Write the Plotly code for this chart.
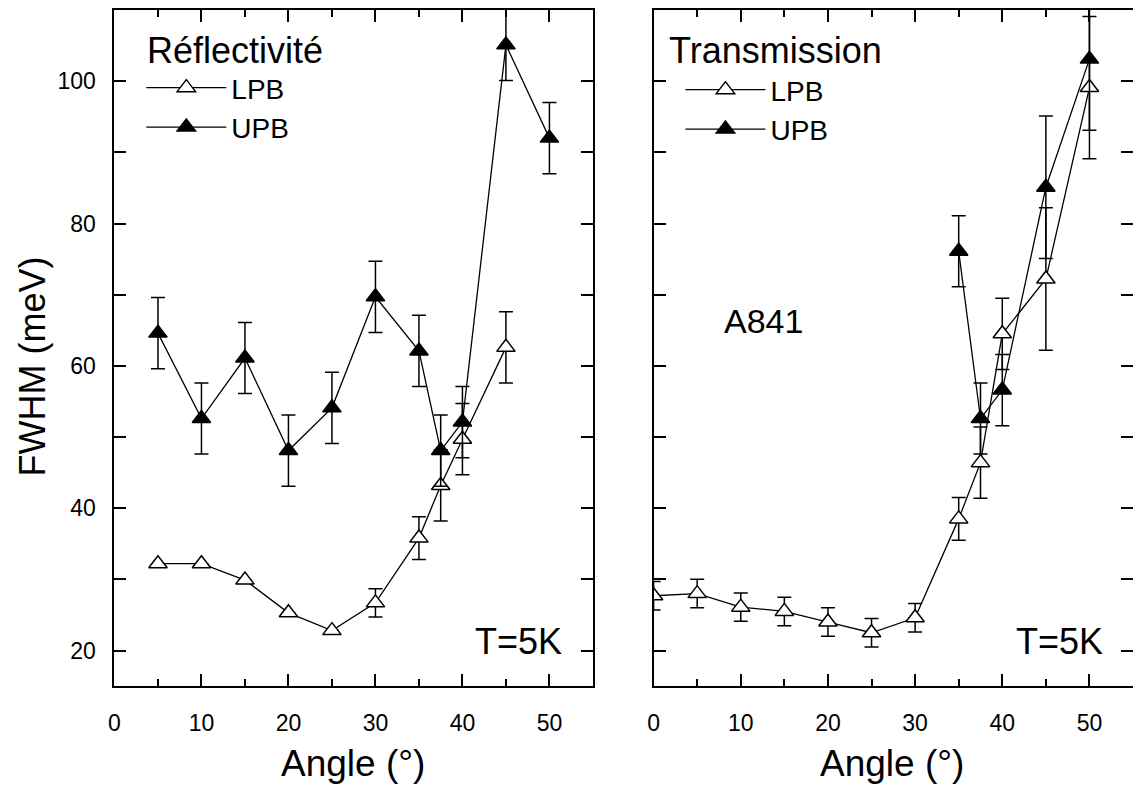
import plotly.graph_objects as go

# Réflectivité (left panel)
refl_lpb_angle = [5, 10, 15, 20, 25, 30, 35, 37.5, 40, 45]
refl_lpb_fwhm = [32.2, 32.2, 29.9, 25.3, 22.8, 26.7, 35.8, 43.2, 49.7, 62.6]
refl_lpb_err = [0, 0, 0, 0, 0, 2, 3, 5, 5, 5]

refl_upb_angle = [5, 10, 15, 20, 25, 30, 35, 37.5, 40, 45, 50]
refl_upb_fwhm = [64.6, 52.6, 61.1, 48.1, 54.1, 69.7, 62.1, 48.1, 52.1, 105.1, 92.0]
refl_upb_err = [5, 5, 5, 5, 5, 5, 5, 5, 5, 5, 5]

# Transmission (right panel)
trans_lpb_angle = [0, 5, 10, 15, 20, 25, 30, 35, 37.5, 40, 45, 50]
trans_lpb_fwhm = [27.7, 28.0, 26.1, 25.5, 24.0, 22.5, 24.6, 38.5, 46.4, 64.5, 72.2, 99.1]
trans_lpb_err = [2, 2, 2, 2, 2, 2, 2, 3, 5, 5, 10, 10]

trans_upb_angle = [35, 37.5, 40, 45, 50]
trans_upb_fwhm = [76.1, 52.6, 56.6, 85.1, 103.1]
trans_upb_err = [5, 5, 5, 10, 10]

x_tickvals = [0, 10, 20, 30, 40, 50]
x_ticktext = ['0', '10', '20', '30', '40', '50']
x_minorvals = [5, 15, 25, 35, 45]
y_tickvals = [20, 30, 40, 50, 60, 70, 80, 90, 100]
y_ticktext = ['20', '', '40', '', '60', '', '80', '', '100']

FONT = 'Liberation Sans, Arial, sans-serif'
# page body has an 8px margin, so the figure is drawn 8px smaller
W, H = 1133, 779


def px(x):
    return x / W


def py(y):
    return 1 - y / H


def add_series(fig, x, y, err, name, filled, xaxis, yaxis, legend):
    fig.add_trace(go.Scatter(
        x=x, y=y, mode='lines+markers', name=name,
        xaxis=xaxis, yaxis=yaxis, legend=legend,
        line=dict(color='black', width=1.3),
        marker=dict(symbol='triangle-up', size=16,
                    color='black' if filled else 'white',
                    line=dict(color='black', width=1.5)),
        error_y=dict(type='data', array=err, color='black', thickness=1.5, width=7),
    ))


def x_axis(domain, anchor):
    return dict(
        domain=domain, anchor=anchor, range=[0, 55],
        tickmode='array', tickvals=x_tickvals, ticktext=x_ticktext,
        ticks='inside', ticklen=12, tickwidth=1.5, tickcolor='black',
        minor=dict(tickmode='array', tickvals=x_minorvals, ticks='inside',
                   ticklen=7, tickwidth=1.5, tickcolor='black'),
        showline=True, linecolor='black', linewidth=2, mirror='ticks',
        showgrid=False, zeroline=False,
        tickfont=dict(family=FONT, size=23, color='black'),
        ticklabelstandoff=15,
    )


def y_axis(domain, anchor, labels=True):
    return dict(
        domain=domain, anchor=anchor, range=[15, 110],
        tickmode='array', tickvals=y_tickvals, ticktext=y_ticktext,
        ticks='inside', ticklen=12, tickwidth=1.5, tickcolor='black',
        showticklabels=labels,
        showline=True, linecolor='black', linewidth=2, mirror='ticks',
        showgrid=False, zeroline=False,
        tickfont=dict(family=FONT, size=23, color='black'),
        ticklabelstandoff=12,
    )


def label(text, x, y, size, xanchor='left', angle=0):
    return dict(text=text, x=px(x), y=py(y), xref='paper', yref='paper',
                xanchor=xanchor, yanchor='middle', textangle=angle,
                showarrow=False, font=dict(family=FONT, size=size, color='black'))


fig = go.Figure()

add_series(fig, refl_lpb_angle, refl_lpb_fwhm, refl_lpb_err, 'LPB', False, 'x', 'y', 'legend')
add_series(fig, refl_upb_angle, refl_upb_fwhm, refl_upb_err, 'UPB', True, 'x', 'y', 'legend')
add_series(fig, trans_lpb_angle, trans_lpb_fwhm, trans_lpb_err, 'LPB', False, 'x2', 'y2', 'legend2')
add_series(fig, trans_upb_angle, trans_upb_fwhm, trans_upb_err, 'UPB', True, 'x2', 'y2', 'legend2')

y_dom = [py(678), py(1)]
legend_style = dict(xanchor='left', yanchor='top', bgcolor='rgba(0,0,0,0)',
                    font=dict(family=FONT, size=28, color='black'),
                    itemwidth=80, tracegroupgap=0)

fig.update_layout(
    width=W, height=H,
    margin=dict(l=0, r=0, t=0, b=0),
    paper_bgcolor='white', plot_bgcolor='white',
    font=dict(family=FONT, color='black'),
    xaxis=x_axis([px(101), px(582)], 'y'),
    yaxis=y_axis(y_dom, 'x'),
    xaxis2=x_axis([px(643), px(1125)], 'y2'),
    yaxis2=y_axis(y_dom, 'x2', labels=False),
    showlegend=True,
    legend=dict(x=px(128), y=py(54), **legend_style),
    legend2=dict(x=px(670), y=py(56), **legend_style),
    annotations=[
        label('Réflectivité', 132, 42, 36),
        label('Transmission', 656, 42, 36),
        label('A841', 712, 312, 34),
        label('T=5K', 553, 633, 36, xanchor='right'),
        label('T=5K', 1097, 633, 36, xanchor='right'),
        label('FWHM (meV)', 19, 358, 36, xanchor='center', angle=-90),
        label('Angle (°)', 341, 755, 37, xanchor='center'),
        label('Angle (°)', 883, 755, 37, xanchor='center'),
    ],
)

fig.write_html("out.html")
